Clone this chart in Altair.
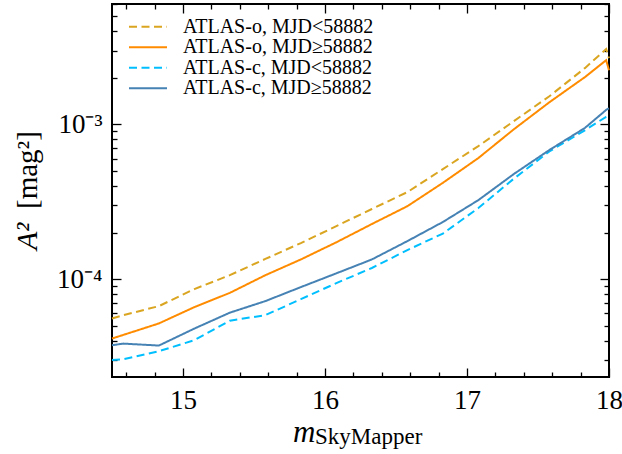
import altair as alt
import pandas as pd

# ---- data ----
m_vals = [14.5, 14.58, 14.83, 15.08, 15.33, 15.58, 15.83, 16.08, 16.33, 16.58,
          16.83, 17.08, 17.33, 17.58, 17.83, 17.98, 18.0]
o_before = [5.56e-5, 5.85e-5, 6.69e-5, 8.62e-5, 1.061e-4, 1.35e-4, 1.71e-4, 2.20e-4, 2.84e-4,
            3.65e-4, 5.14e-4, 7.24e-4, 1.05e-3, 1.52e-3, 2.31e-3, 3.07e-3, 2.68e-3]
o_after = [4.13e-5, 4.36e-5, 5.17e-5, 6.59e-5, 8.15e-5, 1.06e-4, 1.34e-4, 1.73e-4, 2.27e-4,
           2.96e-4, 4.19e-4, 6.06e-4, 9.30e-4, 1.39e-3, 2.02e-3, 2.60e-3, 2.24e-3]
c_before = [3.00e-5, 3.03e-5, 3.42e-5, 4.03e-5, 5.39e-5, 5.85e-5, 7.42e-5, 9.42e-5, 1.18e-4,
            1.54e-4, 1.97e-4, 2.88e-4, 4.46e-4, 6.69e-4, 9.16e-4, 1.12e-3, 1.14e-3]
c_after = [3.74e-5, 3.83e-5, 3.72e-5, 4.79e-5, 6.07e-5, 7.21e-5, 8.88e-5, 1.09e-4, 1.34e-4,
           1.76e-4, 2.34e-4, 3.24e-4, 4.78e-4, 6.83e-4, 9.48e-4, 1.24e-3, 1.27e-3]

series_names = ["ATLAS-o, MJD<58882", "ATLAS-o, MJD≥58882",
                "ATLAS-c, MJD<58882", "ATLAS-c, MJD≥58882"]
series_values = [o_before, o_after, c_before, c_after]
colors = ["#daa520", "#ff8c00", "#00bfff", "#4682b4"]
dashes = [[8, 4.5], [1, 0], [8, 4.5], [1, 0]]

x_ticks = [14.6, 14.8, 15.0, 15.2, 15.4, 15.6, 15.8, 16.0, 16.2, 16.4, 16.6, 16.8,
           17.0, 17.2, 17.4, 17.6, 17.8, 18.0]
y_ticks = [3e-5, 4e-5, 5e-5, 6e-5, 7e-5, 8e-5, 9e-5, 1e-4,
           2e-4, 3e-4, 4e-4, 5e-4, 6e-4, 7e-4, 8e-4, 9e-4, 1e-3,
           2e-3, 3e-3, 4e-3, 5e-3, 6e-3]
x_domain = [14.5, 18.0]
y_domain = [2.33e-5, 6.0e-3]

x_title_main = "m"
x_title_sub = "SkyMapper"
y_title_main = "A²"
y_title_unit = "[mag²]"

rows = []
for name, vals in zip(series_names, series_values):
    for mv, av in zip(m_vals, vals):
        rows.append({"m": mv, "A2": av, "series": name})
df = pd.DataFrame(rows)

FONT = "Liberation Serif"

x_tick_size = {"expr": "(datum.value % 1 == 0) ? -9 : -5"}
y_tick_size = {"expr": "(datum.value == 0.001 || datum.value == 0.0001) ? -9 : -5"}

xscale = alt.Scale(domain=x_domain, nice=False, zero=False)
yscale = alt.Scale(type="log", domain=y_domain, nice=False)

legend = alt.Legend(orient="none", legendX=16, legendY=12.7, title=None,
                    symbolType="stroke", symbolSize=1444, symbolStrokeWidth=2,
                    labelFont=FONT, labelFontSize=20, labelColor="black",
                    labelOffset=15, clipHeight=20, rowPadding=0.5, padding=0,
                    labelLimit=0)

base = alt.Chart(df)

lines = base.mark_line(strokeWidth=2).encode(
    x=alt.X("m:Q", scale=xscale,
            axis=alt.Axis(orient="bottom", values=x_ticks, title=None, grid=False, domain=False,
                          tickSize=x_tick_size, tickWidth=1.3, tickColor="black",
                          labelExpr="(datum.value % 1 == 0) ? format(datum.value, 'd') : ''",
                          labelFont=FONT, labelFontSize=27, labelColor="black",
                          labelPadding=19, labelFlush=False, labelOverlap=False, labelBound=False)),
    y=alt.Y("A2:Q", scale=yscale,
            axis=alt.Axis(orient="left", values=y_ticks, title=None, grid=False, domain=False,
                          tickSize=y_tick_size, tickWidth=1.3, tickColor="black",
                          labelExpr="datum.value == 0.001 ? '10⁻³' : (datum.value == 0.0001 ? '10⁻⁴' : '')",
                          labelFont=FONT, labelFontSize=27, labelColor="black",
                          labelPadding=19, labelOverlap=False, labelBound=False)),
    color=alt.Color("series:N", scale=alt.Scale(domain=series_names, range=colors), legend=legend),
    strokeDash=alt.StrokeDash("series:N", scale=alt.Scale(domain=series_names, range=dashes), legend=legend),
)

mirror = base.mark_line(opacity=0).encode(
    x=alt.X("m:Q", scale=xscale,
            axis=alt.Axis(orient="top", values=x_ticks, title=None, grid=False, domain=False,
                          labels=False, tickSize=x_tick_size, tickWidth=1.3, tickColor="black")),
    y=alt.Y("A2:Q", scale=yscale,
            axis=alt.Axis(orient="right", values=y_ticks, title=None, grid=False, domain=False,
                          labels=False, tickSize=y_tick_size, tickWidth=1.3, tickColor="black")),
    detail="series:N",
)

def label(text, **kw):
    return alt.Chart(pd.DataFrame({"t": [text]})).mark_text(
        font=FONT, color="black", baseline="alphabetic", align="left", **kw
    ).encode(text="t:N")

xt_main = label(x_title_main, fontSize=31, fontStyle="italic").encode(x=alt.value(181), y=alt.value(437.7))
xt_sub = label(x_title_sub, fontSize=23).encode(x=alt.value(203), y=alt.value(440))
yt_main = label(y_title_main, fontSize=30, fontStyle="italic", angle=270).encode(x=alt.value(-75), y=alt.value(246))
yt_unit = label(y_title_unit, fontSize=29, angle=270).encode(x=alt.value(-75), y=alt.value(205))

chart = alt.layer(lines, mirror, xt_main, xt_sub, yt_main, yt_unit).resolve_scale(
    x="shared", y="shared"
).resolve_axis(
    x="independent", y="independent"
).properties(
    width=497, height=373,
    padding={"left": 112, "top": 4, "right": 13, "bottom": 77},
    autosize=alt.AutoSizeParams(type="none"),
    background="white",
).configure_view(stroke="black", strokeWidth=2)

chart.save("out.html", embed_options={"renderer": "svg", "actions": False})
